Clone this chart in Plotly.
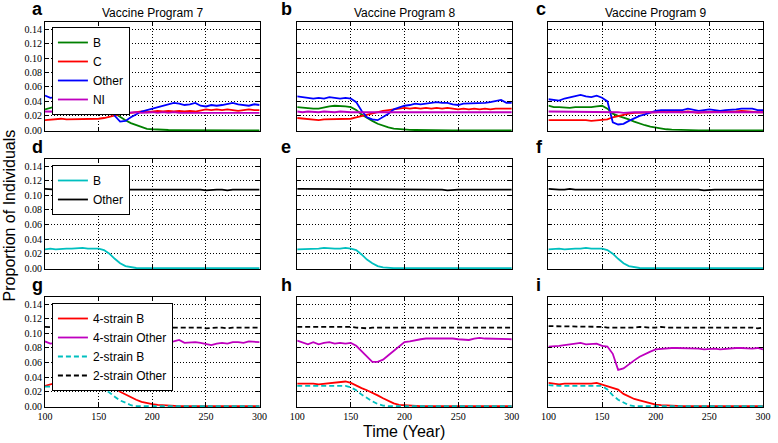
import plotly.graph_objects as go

years = list(range(100, 301, 5))

# ---------------- Panels a-c : 4 strain groups ----------------
vp7_B = [0.029,0.031,0.033,0.031,0.030,0.030,0.029,0.030,0.031,0.033,0.029,0.031,0.028,0.023,0.018,0.014,0.010,0.007,0.004,0.002,
         0.0014,0.0008,0.0005,0.0004,0.0003,0.0002,0.0002,0.0001,0,0,0,0,0,0,0,0,0,0,0,0,0]
vp7_C = [0.014,0.015,0.015,0.016,0.015,0.015,0.016,0.015,0.016,0.016,0.016,0.017,0.019,0.021,0.023,0.024,0.024,0.025,0.026,0.025,
         0.026,0.027,0.026,0.027,0.026,0.027,0.026,0.027,0.026,0.028,0.029,0.028,0.029,0.028,0.029,0.028,0.027,0.028,0.029,0.028,0.028]
vp7_Other = [0.048,0.045,0.046,0.044,0.045,0.046,0.044,0.045,0.043,0.044,0.043,0.040,0.034,0.020,0.012,0.013,0.018,0.022,0.026,0.028,
             0.030,0.032,0.034,0.035,0.038,0.037,0.035,0.036,0.038,0.034,0.033,0.035,0.034,0.035,0.036,0.038,0.036,0.035,0.034,0.036,0.035]
vp7_NI = [0.026,0.026,0.025,0.026,0.025,0.026,0.025,0.025,0.025,0.025,0.025,0.025,0.024,0.025,0.025,0.024,0.025,0.025,0.024,0.025,
          0.025,0.024,0.025,0.024,0.025,0.024,0.024,0.025,0.024,0.024,0.024,0.025,0.024,0.024,0.024,0.024,0.024,0.025,0.024,0.024,0.024]

vp8_B = [0.032,0.031,0.031,0.030,0.030,0.032,0.033,0.034,0.034,0.033,0.032,0.028,0.022,0.017,0.013,0.009,0.006,0.004,0.0023,0.0015,
         0.001,0.0006,0.0004,0.0002,0,0,0,0,0,0,0,0,0,0,0,0,0,0,0,0,0]
vp8_C = [0.017,0.016,0.015,0.015,0.014,0.015,0.015,0.015,0.015,0.016,0.016,0.018,0.020,0.022,0.023,0.025,0.027,0.028,0.029,0.030,
         0.031,0.030,0.031,0.030,0.031,0.030,0.031,0.030,0.031,0.030,0.029,0.030,0.029,0.030,0.029,0.030,0.029,0.030,0.030,0.029,0.030]
vp8_Other = [0.047,0.046,0.045,0.044,0.045,0.044,0.046,0.045,0.044,0.045,0.044,0.039,0.027,0.018,0.015,0.014,0.018,0.023,0.029,0.032,
             0.034,0.035,0.037,0.036,0.037,0.038,0.039,0.038,0.038,0.036,0.035,0.037,0.037,0.038,0.037,0.038,0.039,0.040,0.042,0.038,0.038]
vp8_NI = [0.026,0.025,0.026,0.025,0.025,0.026,0.025,0.025,0.026,0.025,0.025,0.025,0.025,0.024,0.025,0.025,0.025,0.024,0.025,0.025,
          0.025,0.025,0.024,0.025,0.025,0.025,0.024,0.025,0.025,0.025,0.024,0.025,0.025,0.025,0.025,0.024,0.025,0.025,0.025,0.025,0.025]

vp9_B = [0.034,0.032,0.032,0.031,0.031,0.032,0.032,0.031,0.032,0.033,0.034,0.030,0.023,0.020,0.018,0.015,0.012,0.009,0.007,0.005,
         0.0037,0.0025,0.0014,0.001,0.0006,0.0004,0.0002,0,0,0,0,0,0,0,0,0,0,0,0,0,0]
vp9_C = [0.014,0.014,0.015,0.015,0.014,0.014,0.014,0.014,0.013,0.014,0.014,0.015,0.018,0.020,0.021,0.023,0.024,0.024,0.025,0.025,
         0.025,0.026,0.025,0.026,0.025,0.025,0.026,0.025,0.024,0.025,0.025,0.026,0.025,0.025,0.026,0.026,0.027,0.026,0.025,0.025,0.025]
vp9_Other = [0.043,0.042,0.041,0.044,0.046,0.047,0.049,0.047,0.046,0.048,0.045,0.040,0.011,0.008,0.009,0.013,0.017,0.020,0.022,0.025,
             0.027,0.028,0.028,0.029,0.029,0.028,0.030,0.029,0.027,0.028,0.029,0.028,0.027,0.028,0.028,0.029,0.030,0.030,0.030,0.028,0.028]
vp9_NI = [0.026,0.026,0.026,0.025,0.026,0.026,0.025,0.026,0.025,0.025,0.026,0.025,0.025,0.025,0.024,0.025,0.025,0.025,0.025,0.024,
          0.025,0.025,0.025,0.024,0.025,0.025,0.025,0.025,0.024,0.025,0.025,0.025,0.024,0.025,0.025,0.025,0.025,0.024,0.025,0.025,0.025]

# ---------------- Panels d-f : 2 strain groups ----------------
vp7_2B = [0.026,0.027,0.026,0.027,0.027,0.027,0.028,0.028,0.027,0.027,0.027,0.025,0.020,0.013,0.007,0.003,0.0012,0.0004,0.0001,0,
          0,0,0,0,0,0,0,0,0,0,0,0,0,0,0,0,0,0,0,0,0]
vp7_2Other = [0.109,0.108,0.108,0.109,0.108,0.108,0.109,0.108,0.108,0.108,0.109,0.108,0.108,0.108,0.109,0.109,0.108,0.108,0.108,0.108,
              0.109,0.108,0.108,0.108,0.108,0.108,0.109,0.108,0.108,0.108,0.107,0.108,0.108,0.108,0.107,0.108,0.108,0.108,0.107,0.108,0.108]
vp8_2B = [0.026,0.026,0.027,0.027,0.027,0.028,0.027,0.027,0.027,0.028,0.027,0.025,0.019,0.012,0.007,0.003,0.0012,0.0004,0.0001,0,
          0,0,0,0,0,0,0,0,0,0,0,0,0,0,0,0,0,0,0,0,0]
vp8_2Other = [0.109,0.109,0.108,0.108,0.109,0.108,0.108,0.108,0.109,0.108,0.108,0.108,0.109,0.108,0.108,0.108,0.108,0.109,0.108,0.108,
              0.108,0.108,0.108,0.109,0.108,0.108,0.108,0.108,0.107,0.108,0.108,0.108,0.108,0.108,0.108,0.108,0.107,0.108,0.108,0.108,0.108]
vp9_2B = [0.026,0.027,0.027,0.026,0.027,0.027,0.027,0.028,0.027,0.027,0.027,0.025,0.020,0.013,0.007,0.003,0.0012,0.0004,0.0001,0,
          0,0,0,0,0,0,0,0,0,0,0,0,0,0,0,0,0,0,0,0,0]
vp9_2Other = [0.109,0.108,0.108,0.108,0.109,0.108,0.108,0.108,0.108,0.109,0.108,0.108,0.108,0.108,0.108,0.108,0.109,0.108,0.108,0.108,
              0.108,0.108,0.108,0.108,0.108,0.108,0.108,0.108,0.108,0.107,0.108,0.108,0.108,0.108,0.108,0.107,0.108,0.108,0.108,0.108,0.108]

# ---------------- Panels g-i : comparison ----------------
vp7_4B = [0.028,0.030,0.032,0.030,0.029,0.030,0.030,0.030,0.032,0.033,0.030,0.026,0.029,0.026,0.020,0.016,0.012,0.009,0.006,0.004,
          0.003,0.002,0.0014,0.001,0.0005,0.0003,0.0002,0.0001,0,0,0,0,0,0,0,0,0,0,0,0,0]
vp7_4Other = [0.089,0.086,0.087,0.088,0.086,0.087,0.088,0.087,0.086,0.087,0.086,0.084,0.080,0.077,0.076,0.078,0.081,0.084,0.086,0.087,
              0.088,0.087,0.089,0.088,0.089,0.091,0.087,0.088,0.088,0.087,0.085,0.084,0.086,0.087,0.086,0.088,0.088,0.087,0.089,0.088,0.088]
vp7_cB = [0.027,0.027,0.027,0.028,0.027,0.027,0.027,0.028,0.027,0.027,0.027,0.023,0.019,0.013,0.008,0.005,0.0014,0.0003,0,0,
          0,0,0,0,0,0,0,0,0,0,0,0,0,0,0,0,0,0,0,0,0]
vp7_cOther = [0.109,0.108,0.108,0.109,0.108,0.108,0.109,0.108,0.108,0.108,0.109,0.108,0.108,0.108,0.109,0.109,0.108,0.108,0.108,0.108,
              0.109,0.108,0.108,0.108,0.108,0.108,0.109,0.108,0.108,0.108,0.107,0.108,0.108,0.108,0.107,0.108,0.108,0.108,0.107,0.108,0.108]

vp8_4B = [0.031,0.031,0.032,0.031,0.030,0.031,0.031,0.032,0.033,0.034,0.032,0.028,0.025,0.022,0.019,0.015,0.011,0.007,0.004,0.002,
          0.0014,0.0008,0.0004,0.0002,0.0001,0,0,0,0,0,0,0,0,0,0,0,0,0,0,0,0]
vp8_4Other = [0.090,0.087,0.085,0.088,0.085,0.087,0.088,0.086,0.087,0.086,0.087,0.083,0.076,0.069,0.061,0.061,0.064,0.070,0.076,0.083,
              0.088,0.089,0.091,0.092,0.093,0.093,0.094,0.093,0.094,0.093,0.092,0.092,0.091,0.093,0.094,0.093,0.093,0.092,0.092,0.093,0.092]
vp8_cB = [0.028,0.028,0.028,0.028,0.028,0.028,0.028,0.028,0.028,0.028,0.026,0.022,0.016,0.011,0.007,0.003,0.001,0.0002,0,0,
          0,0,0,0,0,0,0,0,0,0,0,0,0,0,0,0,0,0,0,0,0]
vp8_cOther = [0.109,0.109,0.110,0.109,0.109,0.109,0.110,0.109,0.109,0.109,0.109,0.108,0.107,0.107,0.108,0.108,0.109,0.108,0.108,0.108,
              0.108,0.108,0.108,0.109,0.108,0.108,0.109,0.108,0.108,0.108,0.109,0.108,0.108,0.108,0.108,0.109,0.108,0.108,0.108,0.108,0.108]

vp9_4B = [0.032,0.031,0.030,0.031,0.031,0.030,0.030,0.031,0.031,0.032,0.030,0.028,0.026,0.023,0.017,0.013,0.010,0.008,0.006,0.004,
          0.0023,0.0015,0.001,0.0006,0.0004,0.0002,0.0001,0,0,0,0,0,0,0,0,0,0,0,0,0,0]
vp9_4Other = [0.082,0.082,0.083,0.084,0.085,0.086,0.087,0.085,0.085,0.086,0.083,0.082,0.072,0.050,0.052,0.058,0.063,0.068,0.072,0.075,
              0.078,0.079,0.079,0.080,0.080,0.080,0.079,0.079,0.079,0.078,0.079,0.079,0.078,0.079,0.079,0.080,0.080,0.079,0.079,0.080,0.078]
vp9_cB = [0.029,0.028,0.028,0.028,0.028,0.028,0.028,0.028,0.028,0.028,0.028,0.023,0.015,0.009,0.005,0.0014,0.0003,0,0,0,
          0,0,0,0,0,0,0,0,0,0,0,0,0,0,0,0,0,0,0,0,0]
vp9_cOther = [0.110,0.110,0.109,0.110,0.109,0.110,0.109,0.110,0.109,0.109,0.109,0.108,0.108,0.108,0.108,0.107,0.108,0.109,0.108,0.108,
              0.108,0.109,0.108,0.108,0.108,0.109,0.108,0.109,0.108,0.108,0.108,0.108,0.109,0.108,0.108,0.108,0.108,0.108,0.108,0.107,0.108]

titles = ["Vaccine Program 7", "Vaccine Program 8", "Vaccine Program 9"]
letters = ["a", "b", "c", "d", "e", "f", "g", "h", "i"]
y_ticks = [0.00, 0.02, 0.04, 0.06, 0.08, 0.10, 0.12, 0.14]
x_ticks = [100, 150, 200, 250, 300]

GREEN, RED, BLUE, MAG, CYAN, BLACK = "#008000", "#ff0000", "#0000ff", "#bf00bf", "#00bfbf", "#000000"

row1 = [("B", GREEN, "solid"), ("C", RED, "solid"), ("Other", BLUE, "solid"), ("NI", MAG, "solid")]
row2 = [("B", CYAN, "solid"), ("Other", BLACK, "solid")]
row3 = [("4-strain B", RED, "solid"), ("4-strain Other", MAG, "solid"),
        ("2-strain B", CYAN, "5px,3px"), ("2-strain Other", BLACK, "5px,3px")]

panel_data = [
    (row1, [vp7_B, vp7_C, vp7_Other, vp7_NI]),
    (row1, [vp8_B, vp8_C, vp8_Other, vp8_NI]),
    (row1, [vp9_B, vp9_C, vp9_Other, vp9_NI]),
    (row2, [vp7_2B, vp7_2Other]),
    (row2, [vp8_2B, vp8_2Other]),
    (row2, [vp9_2B, vp9_2Other]),
    (row3, [vp7_4B, vp7_4Other, vp7_cB, vp7_cOther]),
    (row3, [vp8_4B, vp8_4Other, vp8_cB, vp8_cOther]),
    (row3, [vp9_4B, vp9_4Other, vp9_cB, vp9_cOther]),
]

# layout geometry (pixels -> paper)
L, R, T, B = 45, 7, 22, 36
W, H = 778, 443
PW, PH = W - L - R, H - T - B
def px(x):
    return (x - L) / PW
def py(y):
    return (H - B - y) / PH

col_px = [(45, 262), (300, 517), (554, 771)]
row_px = [(22, 131), (159, 269), (297, 407)]
legend_names = ["legend", "legend2", "legend3"]

fig = go.Figure()
layout = {}
for i, (spec, vals) in enumerate(panel_data):
    r, c = divmod(i, 3)
    n = i + 1
    xa = "x" if n == 1 else f"x{n}"
    ya = "y" if n == 1 else f"y{n}"
    for (name, color, dash), v in zip(spec, vals):
        fig.add_trace(go.Scatter(
            x=years, y=v, mode="lines", name=name, xaxis=xa, yaxis=ya,
            line=dict(color=color, width=1.8, dash=dash),
            showlegend=(c == 0), legend=legend_names[r]))
    common = dict(showline=True, linecolor="black", linewidth=1, mirror="ticks",
                  ticks="inside", ticklen=4, tickcolor="black",
                  showgrid=True, gridcolor="black", griddash="1px,2px", gridwidth=1,
                  zeroline=False,
                  tickfont=dict(family="Liberation Serif", size=10, color="black"))
    x0, x1 = col_px[c]
    y0, y1 = row_px[r]
    layout["xaxis" if n == 1 else f"xaxis{n}"] = dict(
        common, domain=[px(x0), px(x1)], range=[100, 300], tickvals=x_ticks,
        showticklabels=(r == 2), anchor=ya)
    layout["yaxis" if n == 1 else f"yaxis{n}"] = dict(
        common, domain=[py(y1), py(y0)], range=[-0.001, 0.15], tickvals=y_ticks,
        ticktext=[f"{t:.2f}" for t in y_ticks], showticklabels=(c == 0), anchor=xa)

annotations = []
for c, t in enumerate(titles):
    x0, x1 = col_px[c]
    annotations.append(dict(text=t, x=px((x0 + x1) / 2), y=py(13), xref="paper", yref="paper",
                            showarrow=False, xanchor="center", yanchor="middle",
                            font=dict(family="Liberation Sans", size=12, color="black")))
letter_x = [30, 282, 539]
for i, lt in enumerate(letters):
    r, c = divmod(i, 3)
    annotations.append(dict(text=f"<b>{lt}</b>", x=px(letter_x[c]), y=py(row_px[r][0] - 12.5),
                            xref="paper", yref="paper", showarrow=False,
                            xanchor="left", yanchor="middle",
                            font=dict(family="Liberation Sans", size=18, color="black")))
annotations.append(dict(text="Proportion of Individuals", x=px(9), y=py(215), xref="paper", yref="paper",
                        showarrow=False, textangle=-90, xanchor="center", yanchor="middle",
                        font=dict(family="Liberation Sans", size=16, color="black")))
annotations.append(dict(text="Time (Year)", x=px(408), y=py(432), xref="paper", yref="paper",
                        showarrow=False, xanchor="center", yanchor="middle",
                        font=dict(family="Liberation Sans", size=16, color="black")))

leg_common = dict(xref="paper", yref="paper", xanchor="left", yanchor="top",
                  bgcolor="white", bordercolor="black", borderwidth=1,
                  font=dict(family="Liberation Sans", size=12, color="black"),
                  itemwidth=30, tracegroupgap=0)
layout["legend"] = dict(leg_common, x=px(52), y=py(27))
layout["legend2"] = dict(leg_common, x=px(52), y=py(165))
layout["legend3"] = dict(leg_common, x=px(52), y=py(303))

fig.update_layout(
    width=W, height=H, margin=dict(l=L, r=R, t=T, b=B),
    paper_bgcolor="white", plot_bgcolor="white",
    annotations=annotations, **layout)

fig.write_html("out.html", config={"displayModeBar": False},
               post_script="document.body.style.margin='0px';document.body.style.overflow='hidden';")
